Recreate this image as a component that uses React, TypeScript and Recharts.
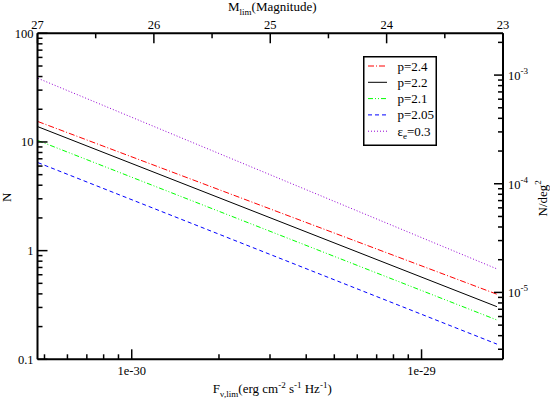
import React from "react";
import { LineChart, Line, XAxis, YAxis, Legend, Label } from "recharts";

// limiting flux (erg cm^-2 s^-1 Hz^-1) at the two ends of each curve
const FLUX = [4.75e-31, 1.82e-29];

// N for each model, read at the two ends
const P24 = [15.4, 0.397];
const P22 = [13.8, 0.305];
const P21 = [10.3, 0.23];
const P205 = [6.45, 0.138];
const EPS03 = [38.5, 0.679];

const X_DOMAIN: [number, number] = [4.73e-31, 1.91e-29];
const X_MAJOR = [1e-30, 1e-29];
const X_LABELS = ["1e-30", "1e-29"];
const X_MINOR = [
  5e-31, 6e-31, 7e-31, 8e-31, 9e-31,
  2e-30, 3e-30, 4e-30, 5e-30, 6e-30, 7e-30, 8e-30, 9e-30,
];

// top axis: limiting magnitude, 27 at the left edge and 23 at the right edge
const MAG_RANGE: [number, number] = [27, 23];
const MAG_MAJOR = [27, 26, 25, 24, 23];
const MAG_MINOR = [26.5, 25.5, 24.5, 23.5];

const Y_DOMAIN: [number, number] = [0.1, 100];
const Y_MAJOR = [0.1, 1, 10, 100];
const Y_LABELS = ["0.1", "1", "10", "100"];
const Y_MINOR = [
  0.2, 0.3, 0.4, 0.5, 0.6, 0.7, 0.8, 0.9,
  2, 3, 4, 5, 6, 7, 8, 9,
  20, 30, 40, 50, 60, 70, 80, 90,
];

// whole sky in square degrees, for the N/deg^2 axis
const SKY_DEG2 = 41253;
const R_MAJOR = [1e-3, 1e-4, 1e-5];
const R_EXP = ["-3", "-4", "-5"];
const R_MINOR = [
  2e-3,
  9e-4, 8e-4, 7e-4, 6e-4, 5e-4, 4e-4, 3e-4, 2e-4,
  9e-5, 8e-5, 7e-5, 6e-5, 5e-5, 4e-5, 3e-5, 2e-5,
  9e-6, 8e-6, 7e-6, 6e-6, 5e-6, 4e-6, 3e-6,
];

const SERIES = [
  { key: "p24", label: "p=2.4", color: "#ff0000", dash: "6 2 1 2", values: P24 },
  { key: "p22", label: "p=2.2", color: "#000000", dash: undefined, values: P22 },
  { key: "p21", label: "p=2.1", color: "#00ff00", dash: "5 2 1 2 1 2", values: P21 },
  { key: "p205", label: "p=2.05", color: "#0000ff", dash: "4 3", values: P205 },
  { key: "eps03", label: "eps", color: "#9400d3", dash: "1 2", values: EPS03 },
];

const data = FLUX.map((flux, i) => {
  const row: Record<string, number> = { flux };
  SERIES.forEach((s) => {
    row[s.key] = s.values[i];
  });
  return row;
});

// place a magnitude on the (log) flux axis: magnitudes run linearly across the frame
const magToFlux = (m: number) => {
  const lo = Math.log10(X_DOMAIN[0]);
  const hi = Math.log10(X_DOMAIN[1]);
  const t = (MAG_RANGE[0] - m) / (MAG_RANGE[0] - MAG_RANGE[1]);
  return Math.pow(10, lo + t * (hi - lo));
};
const TOP_MAJOR = MAG_MAJOR.map(magToFlux);
const TOP_MINOR = MAG_MINOR.map(magToFlux);

const FONT = '"Liberation Serif", "Times New Roman", "DejaVu Serif", serif';
const TXT = { fontFamily: FONT };
const TICK_FONT = 12.5;
const AXIS_LINE = { stroke: "#000", strokeWidth: 2 };

const findMajor = (v: number, majors: number[]) =>
  majors.findIndex((m) => Math.abs(m - v) <= Math.abs(m) * 1e-6);

const BottomTick = (props: any) => {
  const { x, y, payload } = props;
  const idx = findMajor(payload.value, X_MAJOR);
  return (
    <g>
      <line x1={x} x2={x} y1={y} y2={y - (idx >= 0 ? 10 : 5)} stroke="#000" strokeWidth={1.5} />
      {idx >= 0 && (
        <text x={x} y={y + 16} textAnchor="middle" fontSize={TICK_FONT} style={TXT} fill="#000">
          {X_LABELS[idx]}
        </text>
      )}
    </g>
  );
};

const TopTick = (props: any) => {
  const { x, y, payload } = props;
  const idx = findMajor(payload.value, TOP_MAJOR);
  return (
    <g>
      <line x1={x} x2={x} y1={y} y2={y + (idx >= 0 ? 10 : 5)} stroke="#000" strokeWidth={1.5} />
      {idx >= 0 && (
        <text x={x} y={y - 4.5} textAnchor="middle" fontSize={TICK_FONT} style={TXT} fill="#000">
          {MAG_MAJOR[idx]}
        </text>
      )}
    </g>
  );
};

const LeftTick = (props: any) => {
  const { x, y, payload } = props;
  const idx = findMajor(payload.value, Y_MAJOR);
  return (
    <g>
      <line x1={x} x2={x + (idx >= 0 ? 10 : 5)} y1={y} y2={y} stroke="#000" strokeWidth={1.5} />
      {idx >= 0 && (
        <text x={x - 4} y={y + 4.5} textAnchor="end" fontSize={TICK_FONT} style={TXT} fill="#000">
          {Y_LABELS[idx]}
        </text>
      )}
    </g>
  );
};

const RightTick = (props: any) => {
  const { x, y, payload } = props;
  const idx = findMajor(payload.value, R_MAJOR);
  return (
    <g>
      <line x1={x} x2={x - (idx >= 0 ? 9 : 5)} y1={y} y2={y} stroke="#000" strokeWidth={1.5} />
      {idx >= 0 && (
        <text x={x + 5} y={y + 5} fontSize={TICK_FONT} style={TXT} fill="#000">
          10
          <tspan fontSize={9} dy={-6}>{R_EXP[idx]}</tspan>
        </text>
      )}
    </g>
  );
};

const BottomTitle = (props: any) => {
  const { x, y, width } = props.viewBox;
  return (
    <text x={x + width / 2 + 2} y={y + 34} textAnchor="middle" fontSize={13} style={TXT} fill="#000">
      F
      <tspan fontSize={9} dy={4}>ν,lim</tspan>
      <tspan dy={-4}>(erg cm</tspan>
      <tspan fontSize={9} dy={-5}>-2</tspan>
      <tspan dy={5}> s</tspan>
      <tspan fontSize={9} dy={-5}>-1</tspan>
      <tspan dy={5}> Hz</tspan>
      <tspan fontSize={9} dy={-5}>-1</tspan>
      <tspan dy={5}>)</tspan>
    </text>
  );
};

const TopTitle = (props: any) => {
  const { x, width } = props.viewBox;
  return (
    <text x={x + width / 2 + 2} y={11} textAnchor="middle" fontSize={13} style={TXT} fill="#000">
      M
      <tspan fontSize={9} dy={4}>lim</tspan>
      <tspan dy={-4}>(Magnitude)</tspan>
    </text>
  );
};

const LeftTitle = (props: any) => {
  const { y, height } = props.viewBox;
  const cx = 11;
  const cy = y + height / 2 + 1;
  return (
    <text x={cx} y={cy} transform={`rotate(-90, ${cx}, ${cy})`} textAnchor="middle" fontSize={13} style={TXT} fill="#000">
      N
    </text>
  );
};

const RightTitle = (props: any) => {
  const { x, y, height } = props.viewBox;
  const cx = x + 44;
  const cy = y + height / 2 + 2;
  return (
    <text x={cx} y={cy} transform={`rotate(-90, ${cx}, ${cy})`} textAnchor="middle" fontSize={13} style={TXT} fill="#000">
      N/deg
      <tspan fontSize={9} dy={-6}>2</tspan>
    </text>
  );
};

const renderLegend = () => (
  <svg width={74} height={90} style={{ display: "block" }}>
    <rect x={0.75} y={0.75} width={72.5} height={88.5} fill="#fff" stroke="#000" strokeWidth={1.5} />
    {SERIES.map((s, i) => {
      const ry = 10 + i * 16.3;
      return (
        <g key={s.key}>
          <line x1={5} x2={24} y1={ry} y2={ry} stroke={s.color} strokeWidth={1} strokeDasharray={s.dash} />
          <text x={34.5} y={ry + 4.5} fontSize={13} style={TXT} fill="#000">
            {s.key === "eps03" ? (
              <>
                ε<tspan fontSize={9} dy={3}>e</tspan>
                <tspan dy={-3}>=0.3</tspan>
              </>
            ) : (
              s.label
            )}
          </text>
        </g>
      );
    })}
  </svg>
);

export default function App() {
  return (
    <div style={{ position: "absolute", left: 0, top: 0, background: "#fff", fontFamily: FONT }}>
      <LineChart width={550} height={399} data={data} margin={{ top: 0, right: 0, bottom: 0, left: 0 }}>
        <XAxis
          dataKey="flux"
          type="number"
          scale="log"
          domain={X_DOMAIN}
          allowDataOverflow
          ticks={[...X_MINOR, ...X_MAJOR]}
          interval={0}
          tickSize={0}
          tickMargin={0}
          tickLine={false}
          tick={BottomTick}
          axisLine={AXIS_LINE}
          height={39.7}
        >
          <Label content={BottomTitle} />
        </XAxis>
        <XAxis
          xAxisId="top"
          dataKey="flux"
          orientation="top"
          type="number"
          scale="log"
          domain={X_DOMAIN}
          allowDataOverflow
          ticks={[...TOP_MINOR, ...TOP_MAJOR]}
          interval={0}
          tickSize={0}
          tickMargin={0}
          tickLine={false}
          tick={TopTick}
          axisLine={AXIS_LINE}
          height={33.3}
        >
          <Label content={TopTitle} />
        </XAxis>
        <YAxis
          type="number"
          scale="log"
          domain={Y_DOMAIN}
          allowDataOverflow
          ticks={[...Y_MINOR, ...Y_MAJOR]}
          interval={0}
          tickSize={0}
          tickMargin={0}
          tickLine={false}
          tick={LeftTick}
          axisLine={AXIS_LINE}
          width={37.5}
        >
          <Label content={LeftTitle} />
        </YAxis>
        <YAxis
          yAxisId="right"
          orientation="right"
          type="number"
          scale="log"
          domain={[Y_DOMAIN[0] / SKY_DEG2, Y_DOMAIN[1] / SKY_DEG2]}
          allowDataOverflow
          ticks={[...R_MINOR, ...R_MAJOR]}
          interval={0}
          tickSize={0}
          tickMargin={0}
          tickLine={false}
          tick={RightTick}
          axisLine={AXIS_LINE}
          width={47}
        >
          <Label content={RightTitle} />
        </YAxis>
        {SERIES.map((s) => (
          <Line
            key={s.key}
            dataKey={s.key}
            stroke={s.color}
            strokeWidth={1}
            strokeDasharray={s.dash}
            dot={false}
            activeDot={false}
            isAnimationActive={false}
          />
        ))}
        {/* invisible copy so the top axis has a series bound to it */}
        <Line
          xAxisId="top"
          dataKey="p22"
          stroke="none"
          dot={false}
          activeDot={false}
          legendType="none"
          isAnimationActive={false}
        />
        <Legend
          layout="vertical"
          align="center"
          verticalAlign="middle"
          content={renderLegend}
          wrapperStyle={{ position: "absolute", left: 363, top: 56, width: 74, height: 90 }}
        />
      </LineChart>
    </div>
  );
}
